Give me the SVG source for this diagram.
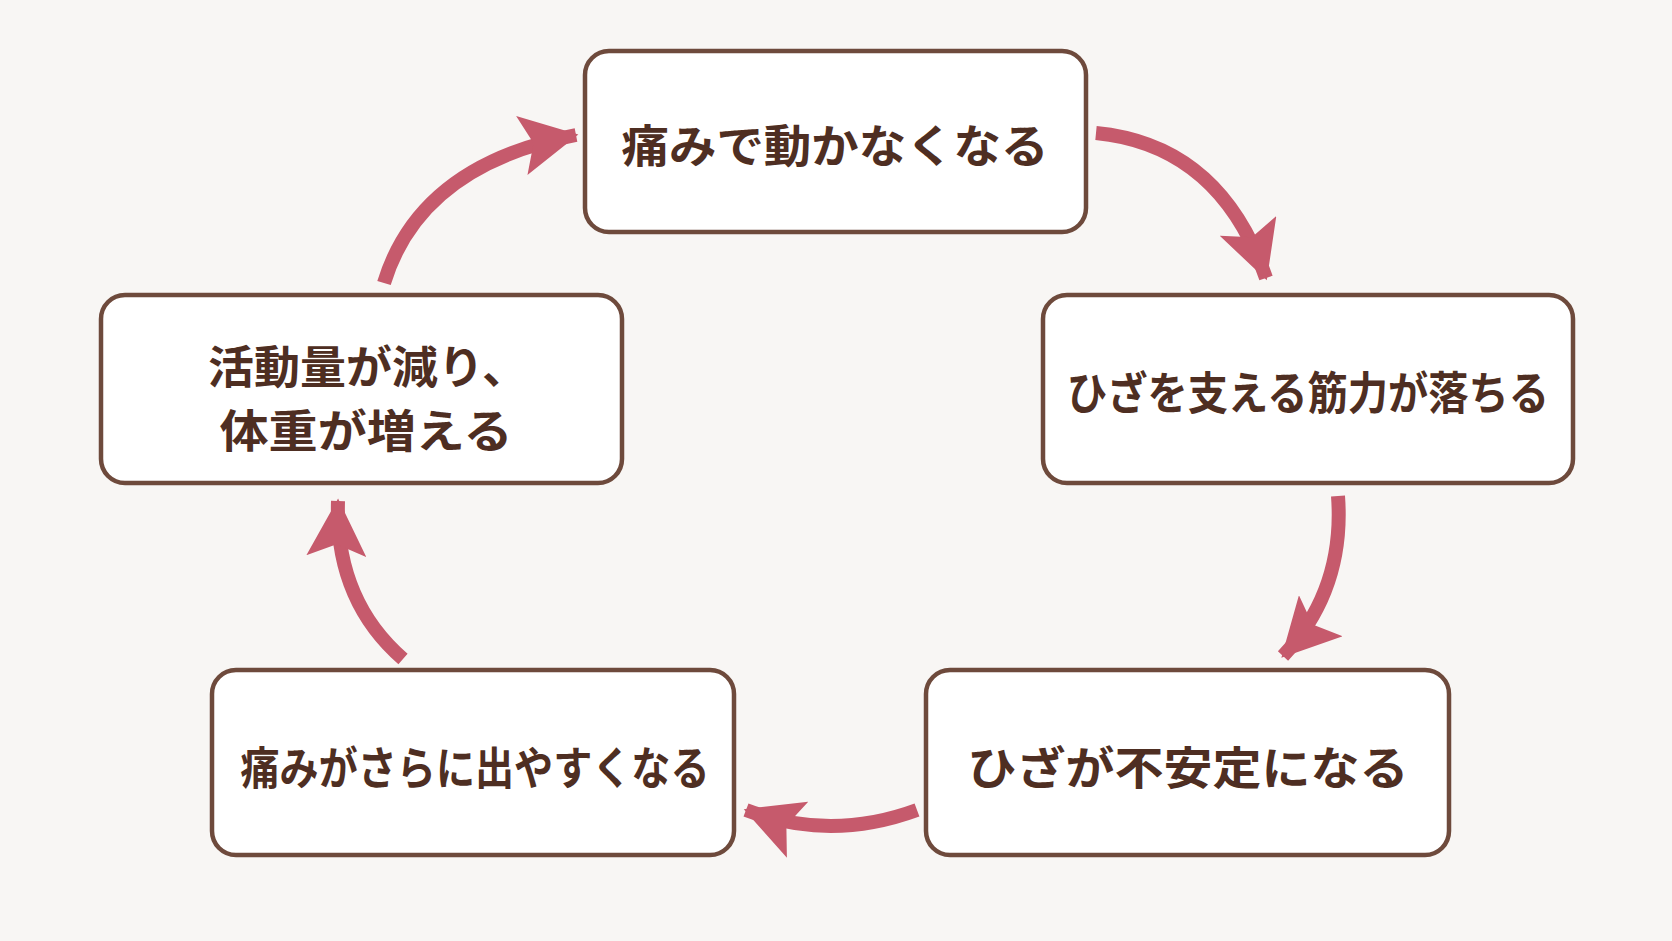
<svg xmlns="http://www.w3.org/2000/svg" width="1672" height="941" viewBox="0 0 1672 941">
<style>
.box{fill:#fff;stroke:#6e4a3c;stroke-width:4.5}
.t{font-family:"Noto Sans CJK JP","Noto Sans",sans-serif;font-weight:700;font-size:45px;fill:#4e2e22;text-anchor:middle;dominant-baseline:central}
.c{fill:none;stroke:#c65a6c;stroke-width:14}
</style>
<defs>
<marker id="ah" markerUnits="userSpaceOnUse" markerWidth="60" markerHeight="60" refX="46" refY="25" orient="auto" viewBox="0 0 50 50">
<path d="M0,0 L48,25 L0,50 L10,25 Z" fill="#c65a6c"/>
</marker>
</defs>
<rect width="1672" height="941" fill="#f8f6f4"/>
<g id="connectors">
<path class="c" d="M1096,133 Q1220,145 1266,278" marker-end="url(#ah)"/>
<path class="c" d="M1338,496 Q1345,590 1283,656" marker-end="url(#ah)"/>
<path class="c" d="M917,810 Q830,842 746,810" marker-end="url(#ah)"/>
<path class="c" d="M403,659 Q335,600 338,501" marker-end="url(#ah)"/>
<path class="c" d="M384,283 Q420,165 576,135" marker-end="url(#ah)"/>
</g>
<g id="n1"><rect class="box" x="585" y="51" width="501" height="181" rx="24"/><text class="t" x="835" y="143" textLength="427" lengthAdjust="spacingAndGlyphs">痛みで動かなくなる</text></g>
<g id="n2"><rect class="box" x="1043" y="295" width="530" height="188" rx="24"/><text class="t" x="1308" y="390" textLength="482" lengthAdjust="spacingAndGlyphs">ひざを支える筋力が落ちる</text></g>
<g id="n3"><rect class="box" x="926" y="670" width="523" height="185" rx="24"/><text class="t" x="1188" y="765" textLength="441" lengthAdjust="spacingAndGlyphs">ひざが不安定になる</text></g>
<g id="n4"><rect class="box" x="212" y="670" width="522" height="185" rx="24"/><text class="t" x="475" y="765" textLength="469" lengthAdjust="spacingAndGlyphs">痛みがさらに出やすくなる</text></g>
<g id="n5"><rect class="box" x="101" y="295" width="521" height="188" rx="24"/><text class="t" x="368" y="364" textLength="320" lengthAdjust="spacingAndGlyphs">活動量が減り、</text><text class="t" x="366" y="428" textLength="293" lengthAdjust="spacingAndGlyphs">体重が増える</text></g>
</svg>
